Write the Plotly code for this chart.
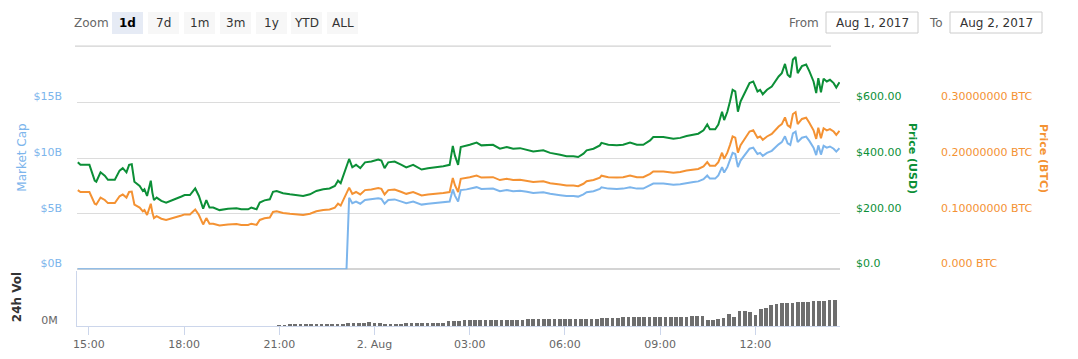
import pandas as pd
import plotly.graph_objects as go

# ---------------- data ----------------
BASE = pd.Timestamp("2017-08-01 15:00")

# minutes after Aug 1, 15:00
minutes = [-21, -16, 1, 11, 14, 22, 30, 36, 49, 58,
           64, 71, 76, 81, 86, 96, 102, 105, 110, 117,
           120, 123, 128, 137, 146, 156, 162, 175, 181, 191,
           201, 208, 216, 222, 228, 235, 247, 263, 279, 288,
           301, 307, 317, 323, 332, 342, 348, 355, 367, 380,
           392, 405, 418, 430, 443, 455, 465, 471, 476, 481,
           487, 492, 498, 505, 513, 522, 534, 547, 553, 559,
           566, 578, 591, 600, 613, 629, 641, 657, 670, 682,
           688, 692, 698, 703, 714, 720, 733, 742, 764, 777,
           790, 802, 815, 828, 840, 859, 872, 891, 903, 916,
           925, 935, 941, 954, 966, 969, 982, 998, 1010, 1023,
           1036, 1048, 1061, 1067, 1086, 1105, 1118, 1130, 1143, 1152,
           1162, 1169, 1174, 1184, 1190, 1197, 1201, 1207, 1212, 1217,
           1222, 1227, 1232, 1241, 1249, 1256, 1264, 1269, 1274, 1282,
           1291, 1304, 1310, 1316, 1321, 1326, 1331, 1336, 1340, 1348,
           1356, 1362, 1370, 1375, 1379, 1384, 1389, 1395, 1401, 1408,
           1413, 1419]

price_usd = [385, 376, 376, 319, 315, 349, 337, 322, 322, 355,
             364, 349, 376, 378, 315, 300, 282, 288, 264, 319,
             276, 249, 258, 246, 240, 246, 252, 262, 267, 267,
             291, 264, 218, 249, 222, 222, 213, 218, 220, 216,
             216, 222, 216, 240, 248, 252, 279, 282, 274, 270,
             267, 264, 270, 282, 288, 291, 300, 319, 310, 337,
             373, 397, 367, 376, 364, 385, 388, 395, 391, 364,
             385, 388, 376, 367, 376, 359, 364, 367, 371, 376,
             444, 409, 376, 440, 444, 448, 456, 446, 448, 434,
             440, 434, 436, 431, 424, 428, 419, 412, 407, 407,
             404, 416, 428, 434, 446, 455, 448, 446, 448, 456,
             448, 448, 464, 476, 476, 470, 473, 480, 485, 488,
             500, 521, 504, 504, 521, 567, 537, 567, 604, 646,
             640, 567, 604, 640, 670, 676, 640, 646, 630, 646,
             658, 694, 706, 739, 700, 691, 755, 764, 706, 731,
             737, 713, 676, 634, 688, 637, 686, 676, 682, 670,
             654, 673]

price_btc = [0.1425, 0.1391, 0.1391, 0.1180, 0.1166, 0.1291, 0.1247, 0.1191, 0.1191, 0.1314,
             0.1347, 0.1291, 0.1391, 0.1399, 0.1166, 0.1110, 0.1043, 0.1066, 0.0977, 0.1180,
             0.1021, 0.0921, 0.0955, 0.0910, 0.0888, 0.0910, 0.0932, 0.0969, 0.0988, 0.0988,
             0.1077, 0.0977, 0.0807, 0.0921, 0.0821, 0.0821, 0.0788, 0.0807, 0.0814, 0.0799,
             0.0799, 0.0821, 0.0799, 0.0888, 0.0918, 0.0932, 0.1032, 0.1043, 0.1014, 0.0999,
             0.0988, 0.0977, 0.0999, 0.1043, 0.1066, 0.1077, 0.1110, 0.1180, 0.1147, 0.1247,
             0.1380, 0.1469, 0.1358, 0.1391, 0.1347, 0.1425, 0.1436, 0.1462, 0.1447, 0.1347,
             0.1425, 0.1436, 0.1391, 0.1358, 0.1391, 0.1328, 0.1347, 0.1358, 0.1373, 0.1391,
             0.1643, 0.1513, 0.1391, 0.1628, 0.1643, 0.1658, 0.1687, 0.1650, 0.1658, 0.1606,
             0.1628, 0.1606, 0.1613, 0.1595, 0.1569, 0.1584, 0.1550, 0.1524, 0.1506, 0.1506,
             0.1495, 0.1539, 0.1584, 0.1606, 0.1650, 0.1684, 0.1658, 0.1650, 0.1658, 0.1687,
             0.1658, 0.1658, 0.1717, 0.1761, 0.1761, 0.1739, 0.1750, 0.1776, 0.1795, 0.1806,
             0.1850, 0.1928, 0.1865, 0.1865, 0.1928, 0.2098, 0.1987, 0.2098, 0.2235, 0.2390,
             0.2368, 0.2098, 0.2235, 0.2368, 0.2479, 0.2501, 0.2368, 0.2390, 0.2331, 0.2390,
             0.2435, 0.2568, 0.2612, 0.2734, 0.2590, 0.2557, 0.2794, 0.2827, 0.2612, 0.2705,
             0.2727, 0.2638, 0.2501, 0.2346, 0.2546, 0.2357, 0.2538, 0.2501, 0.2523, 0.2479,
             0.2420, 0.2490]

# market cap in billions of USD
market_cap_b = [0, 0, 0, 0, 0, 0, 0, 0, 0, 0,
                0, 0, 0, 0, 0, 0, 0, 0, 0, 0,
                0, 0, 0, 0, 0, 0, 0, 0, 0, 0,
                0, 0, 0, 0, 0, 0, 0, 0, 0, 0,
                0, 0, 0, 0, 0, 0, 0, 0, 0, 0,
                0, 0, 0, 0, 0, 0, 0, 0, 0, 0,
                0, 6.43, 5.95, 6.09, 5.90, 6.24, 6.29, 6.40, 6.33, 5.90,
                6.24, 6.29, 6.09, 5.95, 6.09, 5.82, 5.90, 5.95, 6.01, 6.09,
                7.19, 6.63, 6.09, 7.13, 7.19, 7.26, 7.39, 7.23, 7.26, 7.03,
                7.13, 7.03, 7.06, 6.98, 6.87, 6.93, 6.79, 6.67, 6.59, 6.59,
                6.54, 6.74, 6.93, 7.03, 7.23, 7.37, 7.26, 7.23, 7.26, 7.39,
                7.26, 7.26, 7.52, 7.71, 7.71, 7.61, 7.66, 7.78, 7.86, 7.91,
                8.10, 8.44, 8.16, 8.16, 8.44, 9.19, 8.70, 9.19, 9.78, 10.47,
                10.37, 9.19, 9.78, 10.37, 10.85, 10.95, 10.37, 10.47, 10.21, 10.47,
                10.66, 11.24, 11.44, 11.97, 11.34, 11.19, 12.23, 12.38, 11.44, 11.84,
                11.94, 11.55, 10.95, 10.27, 11.15, 10.32, 11.11, 10.95, 11.05, 10.85,
                10.59, 10.90]

# 24h volume (millions USD), one bar every 10 minutes from Aug 1, 21:00
volume_start = "2017-08-01 21:00"
volume_m = [40, 40, 45, 45, 50, 50, 60, 65, 70, 80, 80, 90,
            100, 115, 120, 130, 140, 160, 140, 120, 100, 100, 90, 100,
            105, 110, 115, 120, 120, 120, 120, 125, 200, 215, 220, 225,
            225, 230, 230, 235, 235, 240, 240, 240, 245, 250, 260, 280,
            280, 275, 270, 268, 268, 270, 272, 272, 280, 280, 290, 300,
            300, 315, 320, 330, 340, 345, 345, 355, 360, 360, 370, 372,
            372, 372, 375, 378, 380, 380, 388, 395, 400, 240, 250, 265,
            310, 480, 360, 600, 600, 560, 440, 700, 720, 840, 880, 905,
            920, 940, 955, 960, 980, 1000, 1010, 1020, 1040, 1040]

x_tick_labels = ["15:00", "18:00", "21:00", "2. Aug", "03:00", "06:00", "09:00", "12:00"]
mc_ticks = [0, 5, 10, 15, 20]
mc_tick_labels = ["$0B", "$5B", "$10B", "$15B", ""]
usd_ticks = [0, 200, 400, 600]
usd_tick_labels = ["$0.0", "$200.00", "$400.00", "$600.00"]
btc_ticks = [0, 0.1, 0.2, 0.3]
btc_tick_labels = ["0.000 BTC", "0.10000000 BTC", "0.20000000 BTC", "0.30000000 BTC"]
range_buttons = ["1d", "7d", "1m", "3m", "1y", "YTD", "ALL"]
date_from, date_to = "Aug 1, 2017", "Aug 2, 2017"

# ---------------- styling / layout ----------------
OFF = 8                      # default page margin of the html body
W, H = 1078 - 2 * OFF, 359 - 2 * OFF
# plot-area box in page pixels
PL, PT, PR, PB = 77, 47, 1060, 326
fL, fT, fR, fB = PL - OFF, PT - OFF, PR - OFF, PB - OFF


def px(x):
    return (x - PL) / (PR - PL)


def py(y):
    return (PB - y) / (PB - PT)


BLUE, GREEN, ORANGE = "#7cb5ec", "#0c8f37", "#f49233"
FONT = "DejaVu Sans"

times = BASE + pd.to_timedelta(minutes, unit="min")
vol_times = pd.date_range(volume_start, periods=len(volume_m), freq="10min")
tick_times = pd.date_range(BASE, periods=len(x_tick_labels), freq="3h")

fig = go.Figure()
fig.add_trace(go.Scatter(x=times, y=market_cap_b, yaxis="y", mode="lines",
                         line=dict(color=BLUE, width=2), name="Market Cap"))
fig.add_trace(go.Scatter(x=times, y=price_usd, yaxis="y3", mode="lines",
                         line=dict(color=GREEN, width=2), name="Price (USD)"))
fig.add_trace(go.Scatter(x=times, y=price_btc, yaxis="y4", mode="lines",
                         line=dict(color=ORANGE, width=2), name="Price (BTC)"))
fig.add_trace(go.Bar(x=vol_times, y=volume_m, yaxis="y2", marker_color="#6e6e6e",
                     marker_line_width=0, width=420000, name="24h Vol"))

fig.update_layout(
    width=W, height=H,
    margin=dict(l=fL, t=fT, r=W - fR, b=H - fB, pad=0, autoexpand=False),
    paper_bgcolor="white", plot_bgcolor="white",
    showlegend=False,
    font=dict(family=FONT, size=11, color="#666666"),
    xaxis=dict(domain=[0, px(840)], anchor="y2", automargin=False,
               range=[BASE + pd.Timedelta(minutes=-22.5), BASE + pd.Timedelta(minutes=1420)],
               tickvals=tick_times, ticktext=x_tick_labels,
               ticks="outside", ticklen=8, tickcolor="#ccd6eb",
               showline=True, linecolor="#ccd6eb", linewidth=1,
               showgrid=False, zeroline=False,
               tickfont=dict(size=11, color="#666666")),
    yaxis=dict(domain=[py(269.3), 1], anchor="x", range=[0, 20], automargin=False,
               tickvals=mc_ticks, ticktext=mc_tick_labels,
               showgrid=True, gridcolor="#dcdcdc", gridwidth=1,
               zeroline=True, zerolinecolor="#d4d4d4", zerolinewidth=2,
               ticks="", ticklabelstandoff=14, ticklabelshift=-6,
               tickfont=dict(size=11, color=BLUE)),
    yaxis2=dict(domain=[0, py(271)], anchor="x", range=[0, 2200], automargin=False,
                tickvals=[0], ticktext=["0M"], showgrid=False, zeroline=False,
                showline=True, linecolor="#ccd6eb", linewidth=1,
                ticks="", ticklabelstandoff=16, ticklabelshift=-6,
                tickfont=dict(size=11, color="#666666")),
    yaxis3=dict(overlaying="y", side="right", anchor="x", range=[0, 800], automargin=False,
                tickvals=usd_ticks, ticktext=usd_tick_labels,
                showgrid=False, zeroline=False, ticks="",
                ticklabelstandoff=15, ticklabelshift=-6,
                tickfont=dict(size=11, color=GREEN)),
    yaxis4=dict(overlaying="y", side="right", anchor="free", position=px(938),
                range=[0, 0.4], tickvals=btc_ticks, ticktext=btc_tick_labels,
                showgrid=False, zeroline=False, ticks="", automargin=False,
                ticklabelstandoff=2, ticklabelshift=-6,
                tickfont=dict(size=11, color=ORANGE)),
    bargap=0,
)

annotations = []
shapes = []


def label(text, x, y, color, size=12, angle=0, bold=False, xanchor="center"):
    annotations.append(dict(
        text=f"<b>{text}</b>" if bold else text, x=px(x), y=py(y),
        xref="paper", yref="paper", showarrow=False, textangle=angle,
        xanchor=xanchor, yanchor="middle",
        font=dict(family=FONT, size=size, color=color)))


# separator line along the top edge of the price panel (thin filled strip)
shapes.append(dict(type="rect", xref="paper", yref="paper", x0=px(75), x1=px(831),
                   y0=py(46.8), y1=py(45.6),
                   fillcolor="#d2d2d2", line_width=0, layer="above"))

# axis titles
label("Market Cap", 21.7, 158, BLUE, size=12, angle=-90)
label("24h Vol", 16.7, 297.5, "#333333", size=12, angle=-90, bold=True)
label("Price (USD)", 913, 158, GREEN, size=11, angle=90, bold=True)
label("Price (BTC)", 1044, 158, ORANGE, size=11, angle=90, bold=True)

# range selector
label("Zoom", 91, 23, "#666666", size=12)
btn_x = [112, 148, 184, 220, 256, 291, 327]
for i, (name, x0) in enumerate(zip(range_buttons, btn_x)):
    sel = i == 0
    shapes.append(dict(type="rect", xref="paper", yref="paper",
                       x0=px(x0), x1=px(x0 + 31), y0=py(34), y1=py(12),
                       fillcolor="#e6ebf5" if sel else "#f7f7f7", line_width=0, layer="below"))
    label(name, x0 + 15.5, 23, "#000000" if sel else "#333333", size=12, bold=sel)

# date inputs
label("From", 804, 23, "#666666", size=12)
label("To", 935.5, 23, "#666666", size=12)
for x0, txt in [(826, date_from), (950, date_to)]:
    shapes.append(dict(type="rect", xref="paper", yref="paper",
                       x0=px(x0), x1=px(x0 + 92), y0=py(33), y1=py(12),
                       fillcolor="white", line=dict(color="#cccccc", width=1)))
    label(txt, x0 + 46, 22.5, "#333333", size=12)

fig.update_layout(annotations=annotations, shapes=shapes)
fig.write_html("out.html")
